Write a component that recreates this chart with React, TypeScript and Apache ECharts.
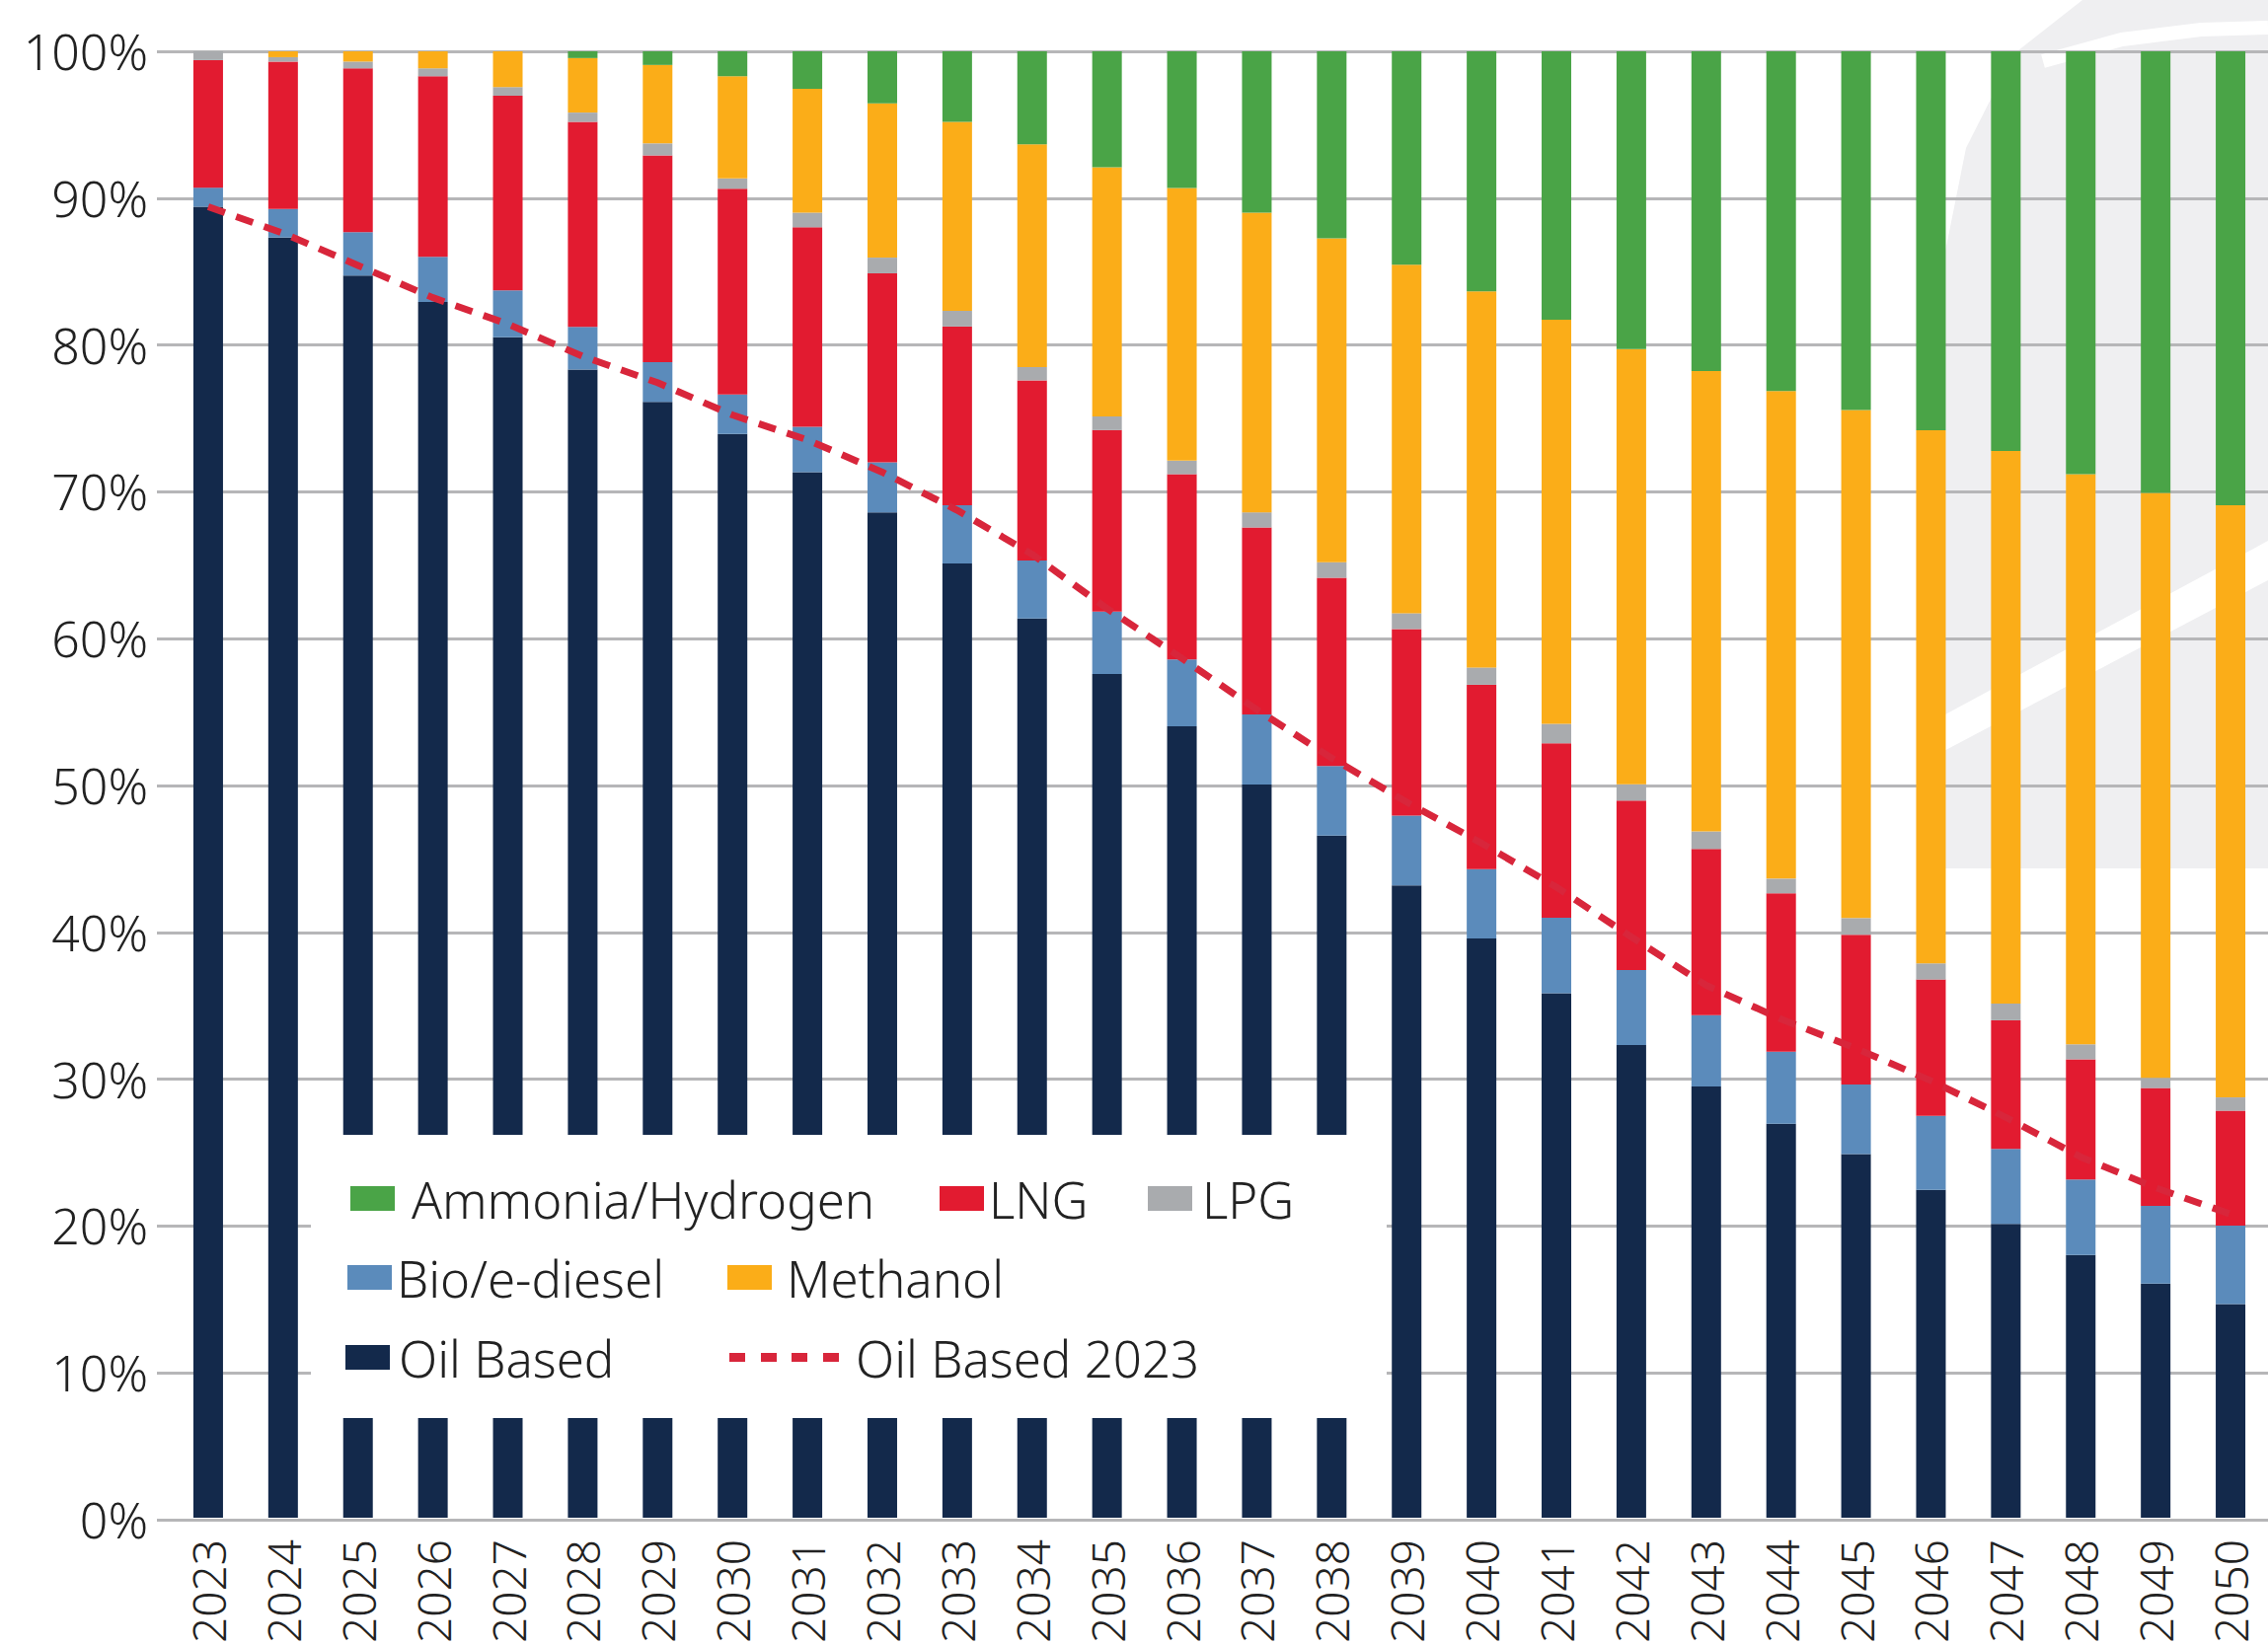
import React, { useEffect, useRef } from "react";
import * as echarts from "echarts";

const years = [
  "2023", "2024", "2025", "2026", "2027", "2028", "2029", "2030", "2031", "2032",
  "2033", "2034", "2035", "2036", "2037", "2038", "2039", "2040", "2041", "2042",
  "2043", "2044", "2045", "2046", "2047", "2048", "2049", "2050",
];

const oilBased = [
  89.4, 87.3, 84.7, 82.9, 80.5, 78.3, 76.1, 73.9, 71.3, 68.56,
  65.08, 61.32, 57.54, 53.97, 50.0, 46.51, 43.11, 39.5, 35.77, 32.23,
  29.4, 26.86, 24.79, 22.35, 20.04, 17.92, 15.97, 14.56,
];
const bioDiesel = [
  1.3, 1.95, 2.97, 3.08, 3.2, 2.9, 2.7, 2.7, 3.1, 3.41,
  3.96, 3.96, 4.26, 4.55, 4.78, 4.75, 4.77, 4.73, 5.14, 5.11,
  4.86, 4.91, 4.75, 5.05, 5.11, 5.15, 5.29, 5.36,
];
const lng = [
  8.7, 10.05, 11.17, 12.32, 13.28, 13.99, 14.1, 14.03, 13.6, 12.89,
  12.19, 12.28, 12.37, 12.64, 12.75, 12.84, 12.72, 12.57, 11.9, 11.56,
  11.34, 10.81, 10.21, 9.3, 8.77, 8.19, 8.04, 7.83,
];
const lpg = [
  0.6, 0.3, 0.46, 0.54, 0.58, 0.63, 0.82, 0.7, 1.0, 1.07,
  1.07, 0.91, 0.93, 0.92, 1.03, 1.06, 1.08, 1.18, 1.33, 1.12,
  1.2, 1.0, 1.14, 1.1, 1.14, 1.02, 0.7, 0.91,
];
const methanol = [
  0, 0.4, 0.7, 1.16, 2.44, 3.72, 5.35, 6.97, 8.44, 10.52,
  12.89, 15.18, 17.0, 18.6, 20.44, 22.08, 23.76, 25.65, 27.55, 29.67,
  31.4, 33.25, 34.65, 36.36, 37.68, 38.88, 39.88, 40.38,
];
const ammonia = [
  0, 0, 0, 0, 0, 0.46, 0.93, 1.7, 2.56, 3.55,
  4.81, 6.35, 7.9, 9.32, 11.0, 12.76, 14.56, 16.37, 18.31, 20.31,
  21.8, 23.17, 24.46, 25.84, 27.26, 28.84, 30.12, 30.96,
];
const oilBased2023 = [
  89.4, 87.6, 85.4, 83.2, 81.4, 79.2, 77.4, 75.2, 73.5, 71.3,
  68.7, 65.7, 62.0, 58.6, 55.1, 51.8, 48.8, 46.0, 43.0, 39.6,
  36.3, 34.0, 32.0, 29.8, 27.3, 24.6, 22.5, 20.7,
];

const COLORS = {
  oil: "#13294b",
  bio: "#5b8bbb",
  lng: "#e21b30",
  lpg: "#a9abae",
  methanol: "#fbad18",
  ammonia: "#4aa447",
  line: "#d8263b",
};

const FONT = '"Noto Sans", "DejaVu Sans", sans-serif';
const TEXT = "#222222";
const WEIGHT = 300;

const DASH_ICON =
  "path://M0 0h16v9H0z M32 0h16v9H32z M63 0h16v9H63z M95 0h16v9H95z";

const legendSpecs = [
  { name: "Ammonia/Hydrogen", left: 355, top: 1189, gap: 12, w: 45, h: 25, icon: "rect" },
  { name: "LNG", left: 952, top: 1189, gap: 0, w: 45, h: 25, icon: "rect" },
  { name: "LPG", left: 1163, top: 1189, gap: 5, w: 45, h: 25, icon: "rect" },
  { name: "Bio/e-diesel", left: 352, top: 1269, gap: 0, w: 45, h: 25, icon: "rect" },
  { name: "Methanol", left: 737, top: 1269, gap: 10, w: 45, h: 25, icon: "rect" },
  { name: "Oil Based", left: 350, top: 1350, gap: 4, w: 45, h: 25, icon: "rect" },
  { name: "Oil Based 2023", left: 739, top: 1350, gap: 12, w: 111, h: 9, icon: DASH_ICON },
];

export default function App() {
  const ref = useRef<HTMLDivElement>(null);

  useEffect(() => {
    if (!ref.current) return;
    const chart = echarts.init(ref.current, undefined, { renderer: "svg" });

    const bar = (name: string, data: number[], color: string) => ({
      name,
      type: "bar",
      stack: "mix",
      xAxisIndex: 1,
      yAxisIndex: 1,
      data,
      barWidth: 30,
      itemStyle: { color },
      emphasis: { disabled: true },
    });

    const option: any = {
      animation: false,
      backgroundColor: "#ffffff",
      textStyle: { fontFamily: FONT },
      grid: [
        { left: 159, right: -13, top: 52, bottom: 128 },
        { left: 173, right: -13, top: 52, bottom: 128 },
      ],
      xAxis: [
        { type: "category", gridIndex: 0, data: years, show: false },
        {
          type: "category",
          gridIndex: 1,
          data: years,
          axisLine: { show: false },
          axisTick: { show: false },
          axisLabel: {
            rotate: 90,
            margin: 22,
            fontSize: 46,
            fontWeight: WEIGHT,
            color: TEXT,
            fontFamily: FONT,
          },
        },
      ],
      yAxis: [
        {
          type: "value",
          gridIndex: 0,
          min: 0,
          max: 100,
          interval: 10,
          axisLine: { show: false },
          axisTick: { show: false },
          axisLabel: {
            formatter: (v: number) => `${v}%`,
            margin: 9,
            fontSize: 50,
            fontWeight: WEIGHT,
            color: TEXT,
            fontFamily: FONT,
          },
          splitLine: { lineStyle: { color: "#b6b6b8", width: 3 } },
        },
        { type: "value", gridIndex: 1, min: 0, max: 100, show: false },
      ],
      legend: legendSpecs.map((s) => ({
        data: [s.name],
        left: s.left,
        top: s.top,
        padding: 0,
        itemGap: 0,
        itemWidth: s.w,
        itemHeight: s.h,
        icon: s.icon,
        selectedMode: false,
        z: 20,
        textStyle: {
          fontSize: 51,
          fontWeight: WEIGHT,
          color: TEXT,
          fontFamily: FONT,
          lineHeight: 50,
          padding: [0, 0, 0, s.gap],
        },
      })),
      graphic: [
        {
          type: "polygon",
          z: -10,
          silent: true,
          shape: {
            points: [
              [2298, 0], [2110, 0], [2040, 55], [1992, 150], [1962, 300],
              [1950, 460], [1951, 880], [2298, 880],
            ],
          },
          style: { fill: "#efeff1" },
        },
        {
          type: "polygon",
          z: -9,
          silent: true,
          shape: {
            points: [[1945, 738], [2298, 548], [2298, 588], [1945, 774]],
          },
          style: { fill: "#ffffff" },
        },
        {
          type: "polyline",
          z: -9,
          silent: true,
          shape: {
            points: [[2070, 62], [2150, 40], [2230, 30], [2298, 28]],
          },
          style: { stroke: "#ffffff", lineWidth: 14, fill: "none" },
        },
        {
          type: "rect",
          z: 10,
          shape: { x: 315, y: 1150, width: 1090, height: 287 },
          style: { fill: "#ffffff" },
        },
      ],
      series: [
        bar("Oil Based", oilBased, COLORS.oil),
        bar("Bio/e-diesel", bioDiesel, COLORS.bio),
        bar("LNG", lng, COLORS.lng),
        bar("LPG", lpg, COLORS.lpg),
        bar("Methanol", methanol, COLORS.methanol),
        bar("Ammonia/Hydrogen", ammonia, COLORS.ammonia),
        {
          name: "Oil Based 2023",
          type: "line",
          xAxisIndex: 1,
          yAxisIndex: 1,
          data: oilBased2023,
          symbol: "none",
          z: 5,
          lineStyle: { color: COLORS.line, width: 7, type: [18, 12] },
          itemStyle: { color: COLORS.line },
          emphasis: { disabled: true },
        },
      ],
    };

    chart.setOption(option);
    return () => chart.dispose();
  }, []);

  return (
    <div
      ref={ref}
      style={{
        position: "fixed",
        left: 0,
        top: 0,
        width: 2298,
        height: 1668,
        background: "#ffffff",
      }}
    />
  );
}
